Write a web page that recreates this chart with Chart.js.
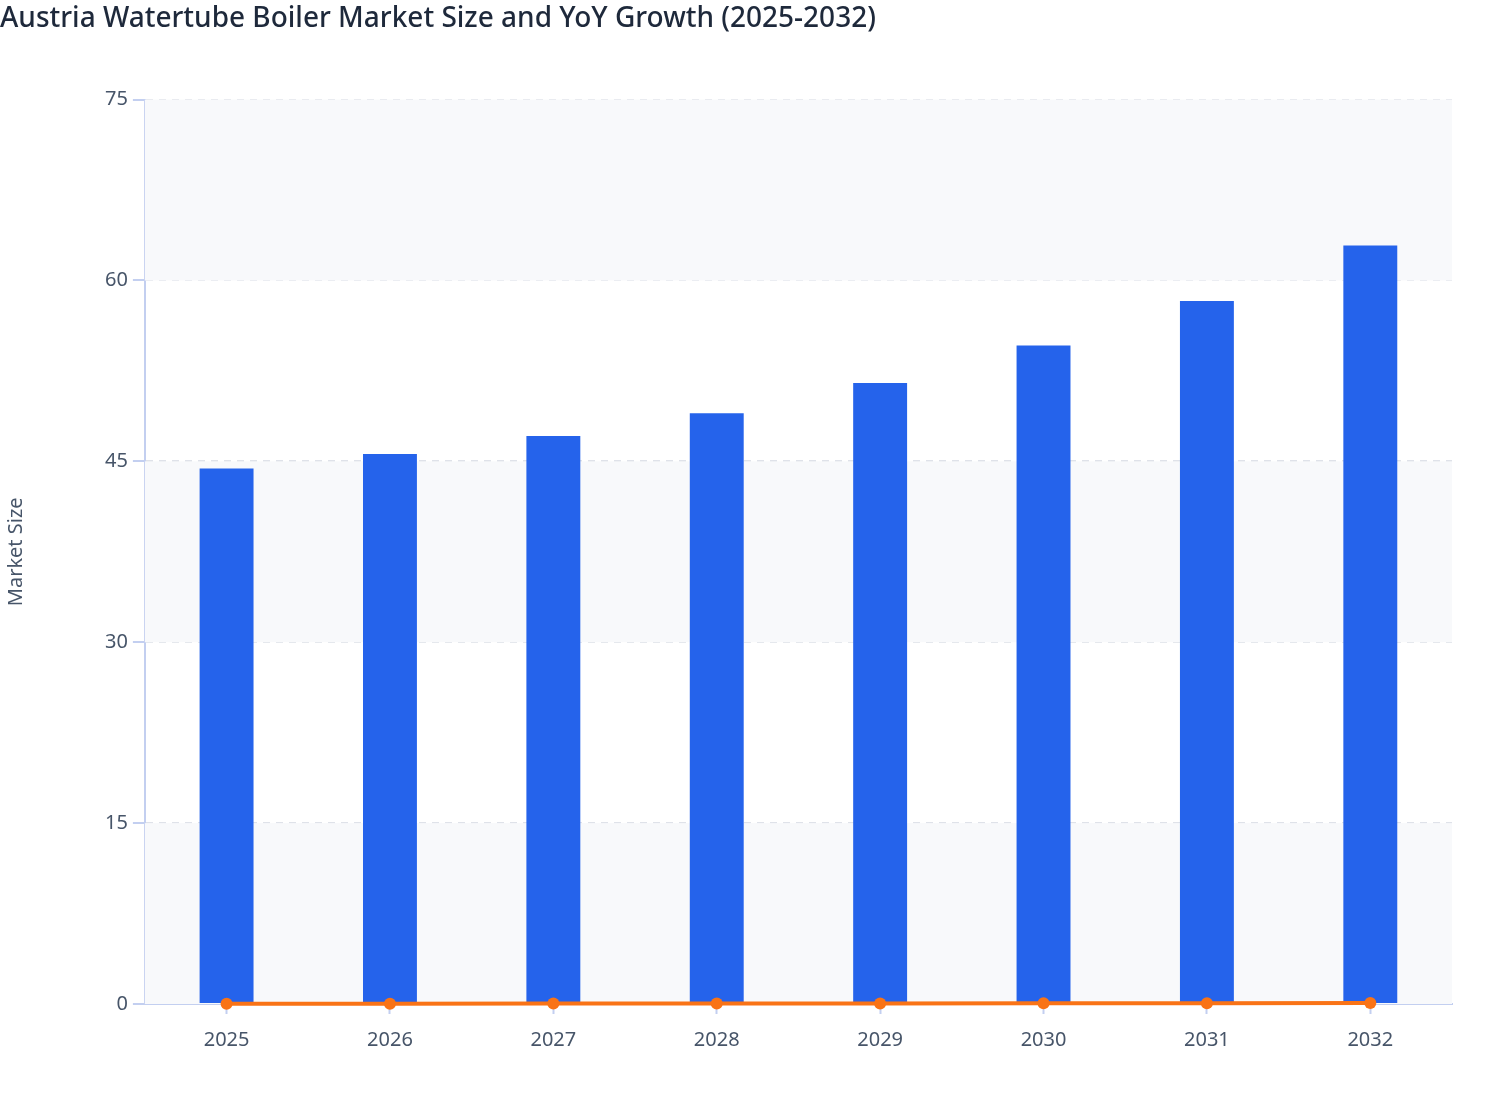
<!DOCTYPE html>
<html>
<head>
<meta charset="utf-8">
<title>Austria Watertube Boiler Market</title>
<script src="https://cdn.jsdelivr.net/npm/chart.js@4.4.1/dist/chart.umd.min.js"></script>
<style>
  html, body { margin: 0; padding: 0; background: #ffffff; }
  #wrap { width: 1508px; height: 1120px; position: relative; }
</style>
</head>
<body>
<div id="wrap"><canvas id="chart"></canvas></div>
<script>
  // Chart data
  var years = ['2025', '2026', '2027', '2028', '2029', '2030', '2031', '2032'];
  var marketSize = [44.4, 45.6, 47.1, 49.0, 51.5, 54.6, 58.3, 62.9];
  var yoyGrowth = [0.024, 0.026, 0.033, 0.042, 0.050, 0.060, 0.068, 0.078];
  var yTicks = [0, 15, 30, 45, 60, 75];

  var axisColor = '#c3cff0';
  var textColor = '#475569';
  var fontFamily = "'Noto Sans', sans-serif";

  // Alternating horizontal bands behind the bars
  var bandPlugin = {
    id: 'bands',
    beforeDatasetsDraw: function (chart) {
      var ctx = chart.ctx;
      var area = chart.chartArea;
      var y = chart.scales.y;
      ctx.save();
      for (var i = 0; i < yTicks.length - 1; i++) {
        if (i % 2 !== 0) continue;
        var top = y.getPixelForValue(yTicks[i + 1]);
        var bottom = y.getPixelForValue(yTicks[i]);
        ctx.fillStyle = '#f8f9fb';
        ctx.fillRect(area.left, top, area.right - area.left, bottom - top);
      }
      ctx.restore();
    }
  };

  new Chart(document.getElementById('chart'), {
    type: 'bar',
    data: {
      labels: years,
      datasets: [{
        type: 'line',
        label: 'YoY Growth',
        data: yoyGrowth,
        borderColor: '#f97316',
        backgroundColor: '#f97316',
        borderWidth: 4,
        pointRadius: 6,
        pointBackgroundColor: '#f97316',
        pointBorderWidth: 0,
        tension: 0,
        clip: false,
        order: 0
      }, {
        type: 'bar',
        label: 'Market Size',
        data: marketSize,
        backgroundColor: '#2563eb',
        borderWidth: 0,
        categoryPercentage: 1,
        barPercentage: 0.33,
        order: 1
      }]
    },
    options: {
      responsive: true,
      maintainAspectRatio: false,
      animation: false,
      layout: { padding: { left: 0, right: 56, top: 0, bottom: 54 } },
      plugins: {
        legend: { display: false },
        tooltip: { enabled: false },
        title: {
          display: true,
          text: 'Austria Watertube Boiler Market Size and YoY Growth (2025-2032)',
          align: 'start',
          color: '#1e293b',
          font: { family: fontFamily, size: 28, weight: '500' },
          padding: { top: 2, bottom: 64 }
        }
      },
      scales: {
        x: {
          grid: { display: true, drawOnChartArea: false, offset: false, tickLength: 10, tickColor: axisColor, tickWidth: 2 },
          border: { display: true, color: axisColor, width: 2 },
          ticks: {
            color: textColor,
            padding: 14,
            font: { family: fontFamily, size: 20 }
          }
        },
        y: {
          min: 0,
          max: 75,
          afterBuildTicks: function (axis) {
            axis.ticks = yTicks.map(function (v) { return { value: v }; });
          },
          grid: {
            color: '#dfe2e9',
            lineWidth: 2,
            tickLength: 12,
            tickColor: axisColor,
            tickWidth: 2,
            tickBorderDash: [],
            drawTicks: true
          },
          border: { display: true, color: axisColor, width: 2, dash: [7, 6] },
          ticks: {
            color: textColor,
            padding: 5,
            font: { family: fontFamily, size: 20 }
          },
          title: {
            display: true,
            text: 'Market Size',
            color: textColor,
            padding: { top: 4, bottom: 72 },
            font: { family: fontFamily, size: 20 }
          }
        }
      }
    },
    plugins: [bandPlugin]
  });
</script>
</body>
</html>
